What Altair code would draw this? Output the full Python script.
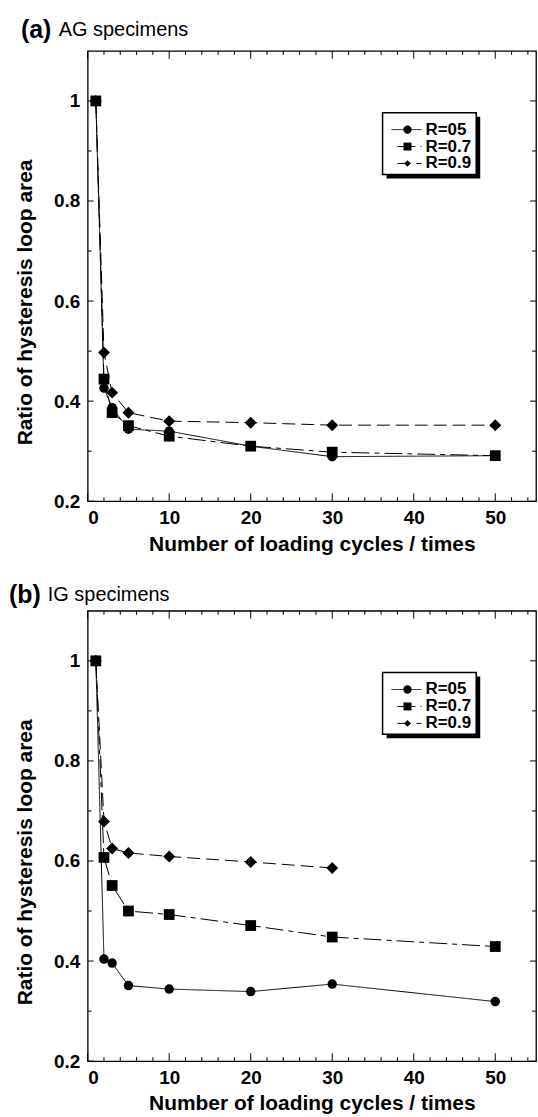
import altair as alt
import pandas as pd

FONT = "Liberation Sans"

# ---------------- data ----------------
series = ["R=05", "R=0.7", "R=0.9"]
cycles = [1, 2, 3, 5, 10, 20, 30, 50]

ag_r05 = [1.0, 0.426, 0.387, 0.344, 0.340, 0.310, 0.289, 0.291]
ag_r07 = [1.0, 0.444, 0.377, 0.351, 0.330, 0.310, 0.298, 0.291]
ag_r09 = [1.0, 0.497, 0.417, 0.377, 0.360, 0.357, 0.352, 0.352]

ig_r05 = [1.0, 0.404, 0.396, 0.351, 0.344, 0.339, 0.354, 0.319]
ig_r07 = [1.0, 0.607, 0.551, 0.500, 0.493, 0.471, 0.448, 0.429]
cycles_ig09 = [1, 2, 3, 5, 10, 20, 30]
ig_r09 = [1.0, 0.679, 0.625, 0.616, 0.609, 0.598, 0.586]

x_labels = [0, 10, 20, 30, 40, 50]
x_minor = [2, 4, 6, 8, 12, 14, 16, 18, 22, 24, 26, 28, 32, 34, 36, 38,
           42, 44, 46, 48, 52, 54]
y_labels = [0.2, 0.4, 0.6, 0.8, 1.0]
y_minor = [0.3, 0.5, 0.7, 0.9]

W, H = 450, 452

dash_range = [[1, 0], [18, 5, 5, 5], [13, 6]]
shape_range = ["circle", "square", "diamond"]
size_range = [90, 144, 80]
leg_size = [70, 64, 45]


def one():
    return pd.DataFrame({"k": [0]})


def panel(tag, name, tag_x, tag_y, name_x, data):
    rows = []
    for s in ["R=0.9", "R=05", "R=0.7"]:
        xs, ys = data[s]
        for xv, yv in zip(xs, ys):
            rows.append({"cycles": xv, "ratio": yv, "series": s})
    df = pd.DataFrame(rows)

    xscale = alt.Scale(domain=[0, 55], nice=False, zero=False)
    yscale = alt.Scale(domain=[0.2, 1.1], nice=False, zero=False)
    axis_common = dict(domain=False, ticks=False, grid=False,
                       labelFont=FONT, titleFont=FONT, labelFontSize=19, titleFontSize=21,
                       labelFontWeight="bold", titleFontWeight="bold",
                       labelColor="black", titleColor="black")
    xaxis = alt.Axis(values=x_labels, format="d", title="Number of loading cycles / times",
                     labelPadding=7, titlePadding=6, **axis_common)
    yaxis = alt.Axis(values=y_labels, format="~g", title="Ratio of hysteresis loop area",
                     labelPadding=8, titleX=-56, titleY=252, titleBaseline="alphabetic",
                     **axis_common)

    def X(f):
        return alt.X(f, scale=xscale, axis=xaxis)

    def Y(f):
        return alt.Y(f, scale=yscale, axis=yaxis)

    lines = alt.Chart(df).mark_line(color="black", strokeWidth=1).encode(
        x=X("cycles:Q"), y=Y("ratio:Q"), detail="series:N",
        strokeDash=alt.StrokeDash("series:N", scale=alt.Scale(domain=series, range=dash_range), legend=None),
    )
    points = alt.Chart(df).mark_point(filled=True, color="black", opacity=1).encode(
        x=X("cycles:Q"), y=Y("ratio:Q"),
        shape=alt.Shape("series:N", scale=alt.Scale(domain=series, range=shape_range), legend=None),
        size=alt.Size("series:N", scale=alt.Scale(domain=series, range=size_range), legend=None),
    )

    layers = [lines, points]

    # inward ticks (bottom/top, left/right)
    tdx_min = pd.DataFrame({"t": x_minor})
    tdx_maj = pd.DataFrame({"t": x_labels})
    tdy_min = pd.DataFrame({"t": y_minor})
    tdy_maj = pd.DataFrame({"t": y_labels})
    for d, ln in [(tdx_min, 4), (tdx_maj, 8)]:
        layers.append(alt.Chart(d).mark_rule(color="black", strokeWidth=1).encode(
            x=X("t:Q"), y=alt.value(H), y2=alt.value(H - ln)))
        layers.append(alt.Chart(d).mark_rule(color="black", strokeWidth=1).encode(
            x=X("t:Q"), y=alt.value(0), y2=alt.value(ln)))
    for d, ln in [(tdy_min, 4), (tdy_maj, 6)]:
        layers.append(alt.Chart(d).mark_rule(color="black", strokeWidth=1).encode(
            y=Y("t:Q"), x=alt.value(0), x2=alt.value(ln)))
        layers.append(alt.Chart(d).mark_rule(color="black", strokeWidth=1).encode(
            y=Y("t:Q"), x=alt.value(W - ln), x2=alt.value(W)))

    # legend box with shadow
    bx0, bx1, by0, by1 = 296, 390, 62, 124
    layers.append(alt.Chart(one()).mark_rect(color="black").encode(
        x=alt.value(bx0 + 4), x2=alt.value(bx1 + 4), y=alt.value(by0 + 4), y2=alt.value(by1 + 4)))
    layers.append(alt.Chart(one()).mark_rect(fill="white", stroke="black", strokeWidth=1.5).encode(
        x=alt.value(bx0), x2=alt.value(bx1), y=alt.value(by0), y2=alt.value(by1)))
    row_y = [79, 96, 113]
    line_x0 = [305, 311, 311]
    for i, s in enumerate(series):
        layers.append(alt.Chart(one()).mark_rule(color="black", strokeWidth=1,
                                                 strokeDash=dash_range[i] if i else [1, 0]).encode(
            x=alt.value(line_x0[i]), x2=alt.value(335), y=alt.value(row_y[i])))
        layers.append(alt.Chart(one()).mark_point(filled=True, color="black", opacity=1,
                                                  shape=shape_range[i], size=leg_size[i]).encode(
            x=alt.value(321), y=alt.value(row_y[i])))
        layers.append(alt.Chart(one()).mark_text(text=s, align="left", baseline="middle",
                                                 font=FONT, fontSize=17, fontWeight="bold",
                                                 color="black").encode(
            x=alt.value(339), y=alt.value(row_y[i])))

    # panel tag and name
    layers.append(alt.Chart(one()).mark_text(text=tag, align="left", baseline="middle", font=FONT,
                                             fontSize=25, fontWeight="bold", color="black").encode(
        x=alt.value(tag_x), y=alt.value(tag_y)))
    layers.append(alt.Chart(one()).mark_text(text=name, align="left", baseline="middle", font=FONT,
                                             fontSize=20, color="black").encode(
        x=alt.value(name_x), y=alt.value(tag_y)))

    return alt.layer(*layers).properties(width=W, height=H)


pa = panel("(a)", "AG specimens", -67, -21, -29,
           {"R=05": (cycles, ag_r05), "R=0.7": (cycles, ag_r07), "R=0.9": (cycles, ag_r09)})
pb = panel("(b)", "IG specimens", -79, -16, -40,
           {"R=05": (cycles, ig_r05), "R=0.7": (cycles, ig_r07), "R=0.9": (cycles_ig09, ig_r09)})

chart = alt.vconcat(pa, pb, spacing=27).properties(
    padding={"left": 8, "top": 15, "right": 0, "bottom": 0},
    background="white",
).configure_view(stroke="black", strokeWidth=1.3)

chart.save("out.html", embed_options={"renderer": "svg", "actions": False})
